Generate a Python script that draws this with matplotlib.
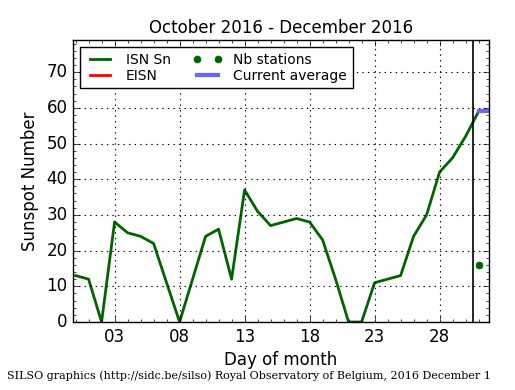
import numpy as np
import matplotlib
matplotlib.use("Agg")
import matplotlib.pyplot as plt
from matplotlib.ticker import MultipleLocator, FixedLocator


#----------------------------------------------------
# data (day 0 = Oct 31, day 31 = Dec 1)
#----------------------------------------------------
days = list(range(0, 32))
isn_sn = [13, 12, 0, 28, 25, 24, 22, 11, 0, 12, 24, 26, 12, 37, 31, 27,
          28, 29, 28, 23, 12, 0, 0, 11, 12, 13, 24, 30, 42, 46, 52, 59]
nb_days = [31]
nb_stations = [16]
avg_days = [31, 31.8]
current_average = [59, 59]

tick_days = [3, 8, 13, 18, 23, 28]
tick_labels = ["03", "08", "13", "18", "23", "28"]
month_mark = 30.55


#----------------------------------------------------
# figure
#----------------------------------------------------
plt.style.use("classic")
fig = plt.figure(figsize=(5.15, 3.9), dpi=100, facecolor="white")
ax = fig.add_axes([0.1417, 0.1744, 0.8078, 0.723])

ax.plot(days, isn_sn, color="#006400", lw=2, label="ISN Sn")
ax.plot([], [], color="red", lw=2, label="EISN")
ax.plot(nb_days, nb_stations, "o", color="#006400", markersize=5,
        markeredgecolor="#006400", label="Nb stations")
ax.plot(avg_days, current_average, color="#6666ff", lw=3,
        label="Current average")
ax.axvline(month_mark, color="black", lw=1.2)

ax.set_xlim(-0.2, 31.8)
ax.set_ylim(0, 79)
ax.xaxis.set_major_locator(FixedLocator(tick_days))
ax.set_xticklabels(tick_labels)
ax.xaxis.set_minor_locator(MultipleLocator(1))
ax.yaxis.set_major_locator(MultipleLocator(10))
ax.yaxis.set_minor_locator(MultipleLocator(2))
ax.tick_params(labelsize=12)
ax.grid(True, which="major", color="black", linestyle=":", lw=0.8)

ax.set_title("October 2016 - December 2016", fontsize=12)
ax.set_xlabel("Day of month", fontsize=12, labelpad=4)
ax.set_ylabel("Sunspot Number", fontsize=12)

ax.legend(loc="upper left", ncol=2, fontsize=10, numpoints=2,
          handlelength=2.1, borderpad=0.4, labelspacing=0.15,
          columnspacing=1.6)

fig.text(0.014, 0.028, "SILSO graphics (http://sidc.be/silso) Royal Observatory of Belgium, 2016 December 1",
         family="DejaVu Serif", fontsize=8)

fig.savefig("out.png", dpi=100, facecolor="white")
